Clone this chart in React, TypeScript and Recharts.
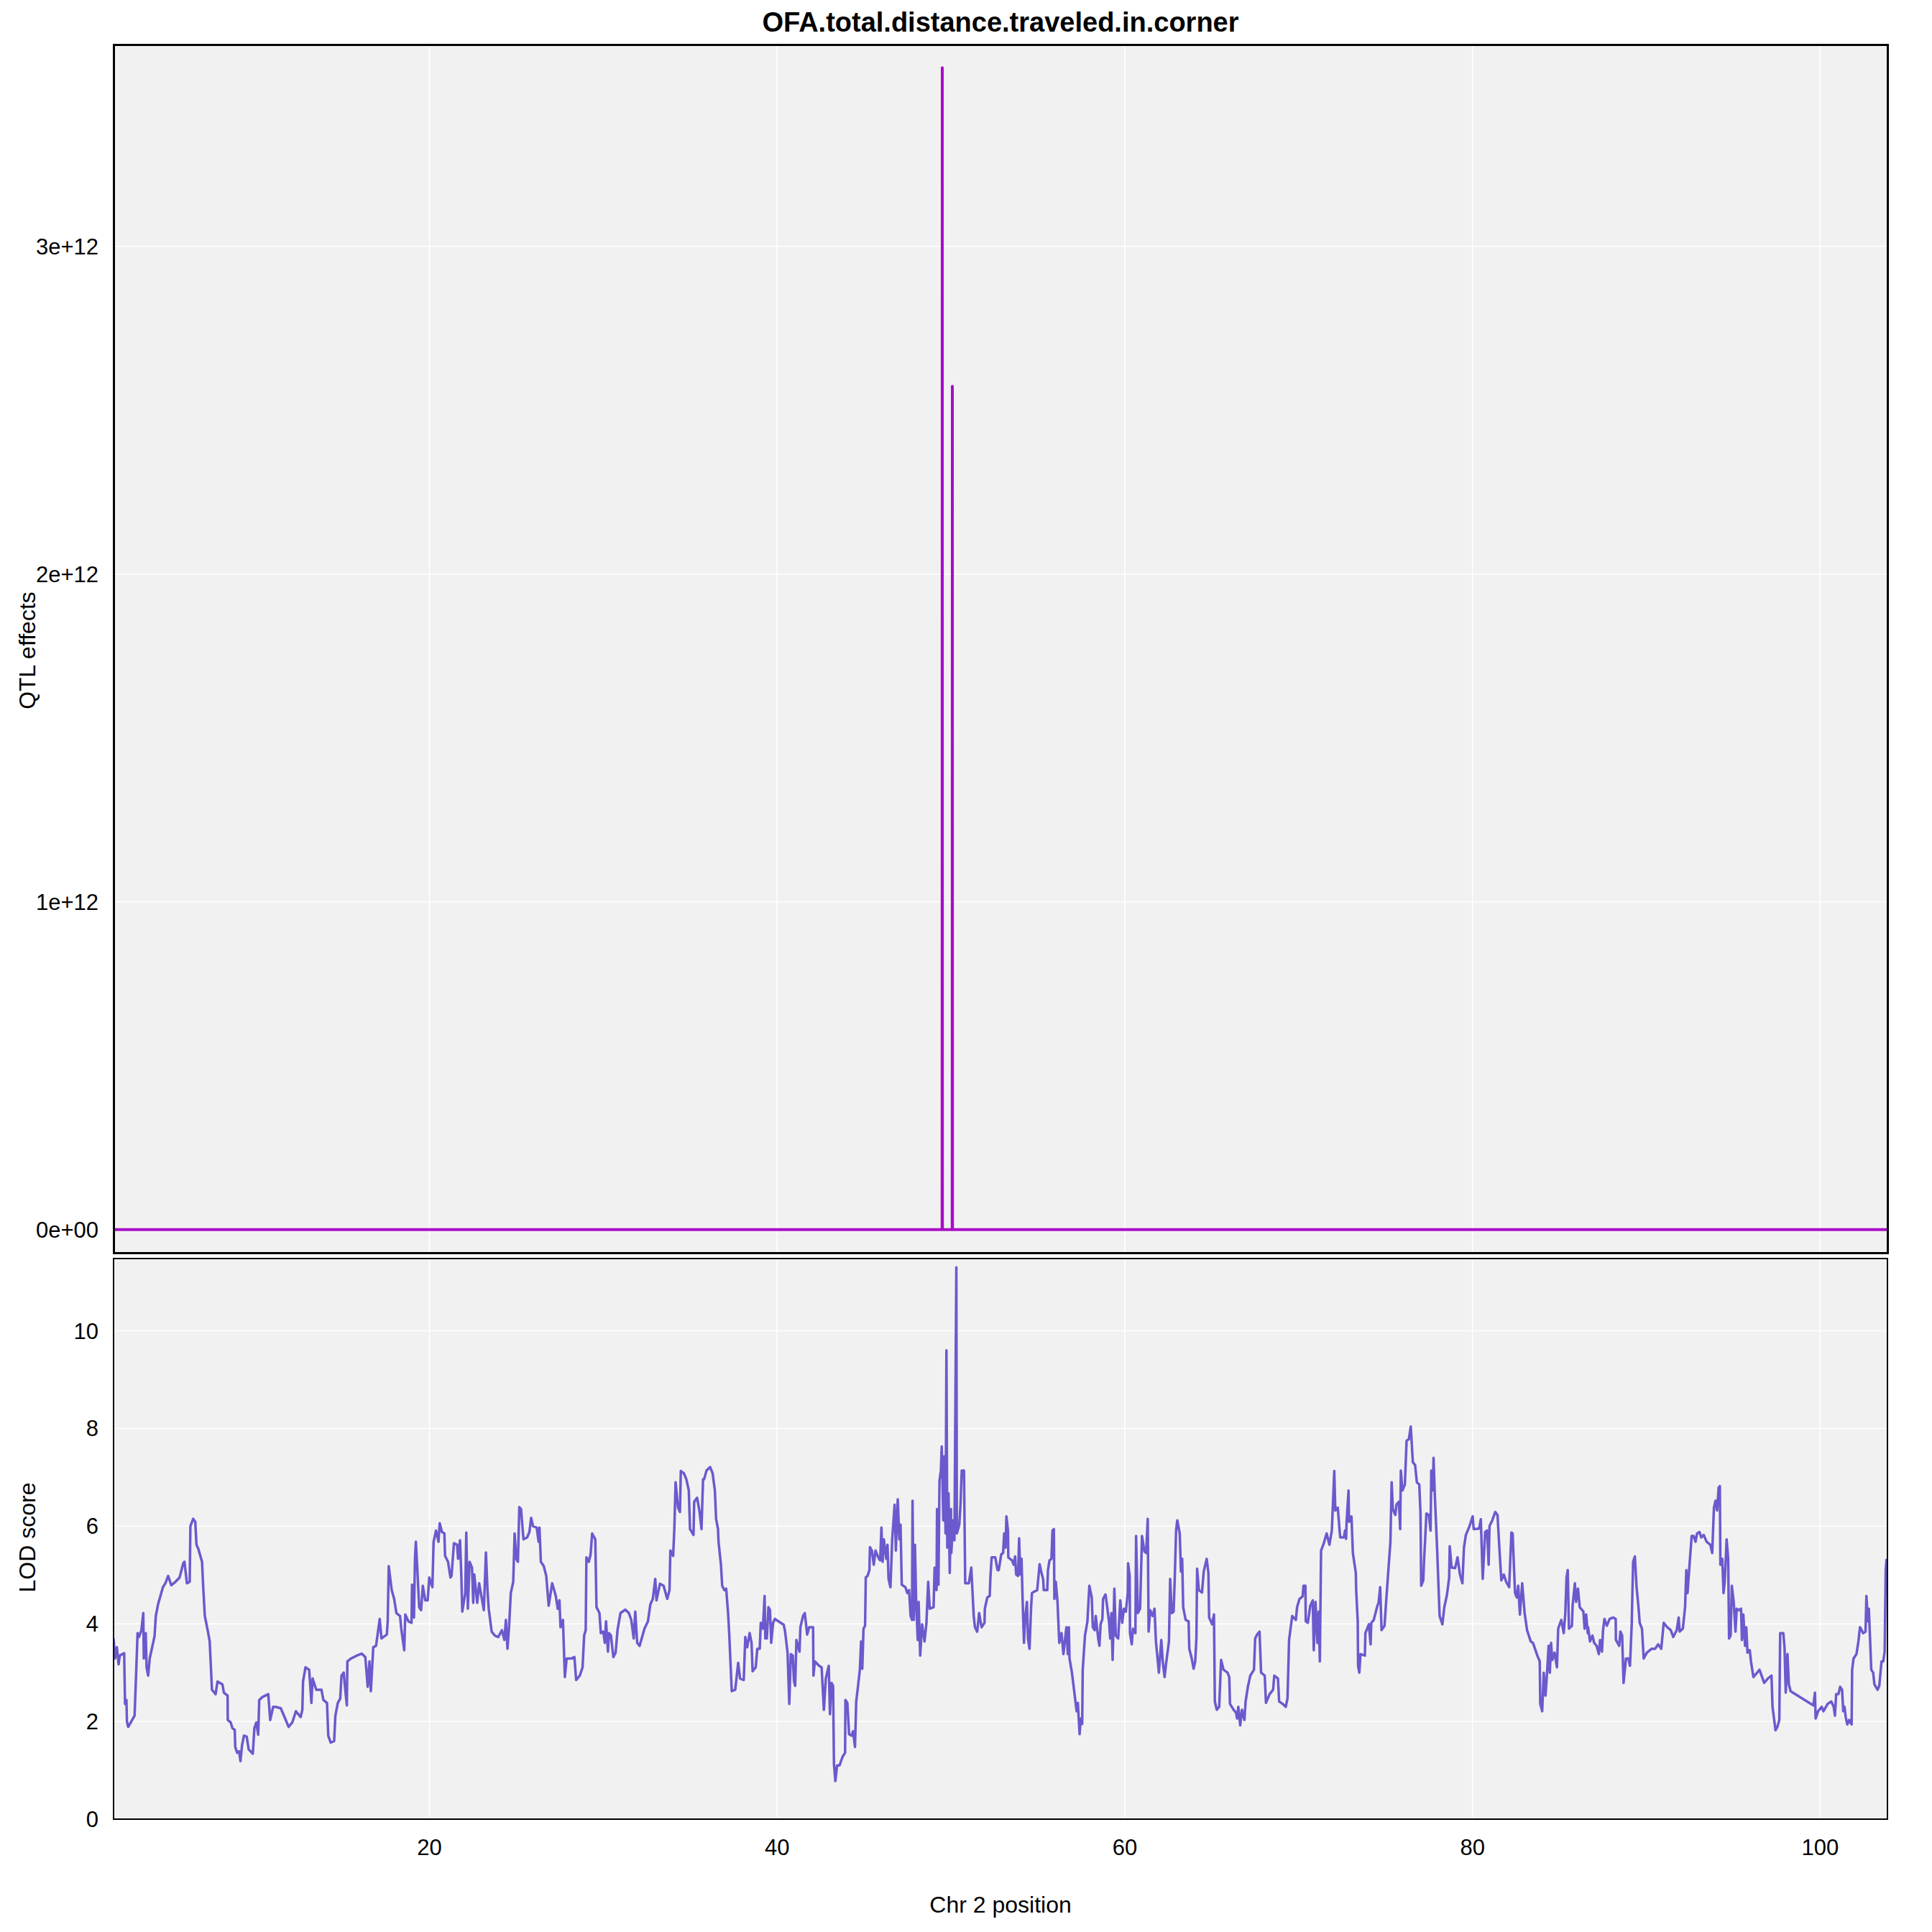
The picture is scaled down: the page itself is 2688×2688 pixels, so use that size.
import React from 'react';
import { LineChart, Line, XAxis, YAxis, CartesianGrid } from 'recharts';

// axis ticks
const xTicks = [20, 40, 60, 80, 100];
const effectTicks = [0, 1e12, 2e12, 3e12];
const effectTickLabels = ['0e+00', '1e+12', '2e+12', '3e+12'];
const lodTicks = [0, 2, 4, 6, 8, 10];

// QTL effect (top panel)
const effectPos = [1.83, 49.49, 49.5, 49.51, 50.07, 50.08, 50.09, 103.87];
const effectValue = [0, 0, 3.545e12, 0, 0, 2.573e12, 0, 0];

// LOD curve (bottom panel)
const lodPos = [
  1.83, 1.91, 2.02, 2.12, 2.19, 2.44, 2.49, 2.57, 2.6, 2.67, 2.88, 3.04, 3.13, 3.21, 3.29, 3.43,
  3.54, 3.57, 3.68, 3.73, 3.82, 3.91, 4.19, 4.26, 4.39, 4.67, 4.81, 4.97, 5.15, 5.36, 5.63, 5.84,
  5.91, 6.05, 6.21, 6.25, 6.41, 6.53, 6.6, 6.71, 6.92, 6.98, 7.08, 7.26, 7.36, 7.49, 7.7, 7.81,
  8.09, 8.18, 8.39, 8.4, 8.57, 8.67, 8.8, 8.83, 8.94, 9.05, 9.13, 9.22, 9.33, 9.49, 9.6, 9.84,
  9.93, 10.04, 10.15, 10.21, 10.39, 10.73, 10.84, 11.01, 11.15, 11.45, 11.7, 11.9, 12.11, 12.32, 12.59, 12.69,
  12.73, 12.87, 13.08, 13.15, 13.21, 13.28, 13.49, 13.79, 13.9, 14.11, 14.18, 14.32, 14.52, 14.59, 14.73, 14.87,
  14.94, 15.07, 15.14, 15.25, 15.28, 15.49, 15.83, 16.11, 16.31, 16.45, 16.55, 16.63, 16.77, 16.93, 17.14, 17.24,
  17.55, 17.6, 17.66, 17.83, 17.97, 18.1, 18.31, 18.38, 18.55, 18.61, 18.79,
  18.97, 19.0, 19.11, 19.17, 19.22, 19.3, 19.41, 19.52, 19.62, 19.76, 19.9, 19.99, 20.17, 20.24, 20.38, 20.52,
  20.59, 20.72, 20.86, 20.9, 21.07, 21.21, 21.27, 21.41, 21.59, 21.65, 21.76, 21.83, 21.89, 22.06, 22.12, 22.21,
  22.31, 22.45, 22.52, 22.58, 22.75, 22.86, 23.13, 23.25, 23.34, 23.41, 23.58, 23.76, 23.96, 24.17, 24.31, 24.4,
  24.49, 24.58, 24.68, 24.82, 24.9, 25.0, 25.09, 25.17, 25.27, 25.41, 25.62, 25.75, 25.85, 25.96, 26.17, 26.28,
  26.33, 26.41, 26.58, 26.72, 26.86, 27.06, 27.27, 27.38, 27.48, 27.54, 27.68, 27.79, 27.89, 28.16, 28.34, 28.44,
  28.65, 28.81, 28.9, 28.99, 29.03, 29.17, 29.27, 29.36, 29.54, 29.61, 29.78, 29.86, 30.0, 30.09, 30.16, 30.27,
  30.33, 30.44, 30.58, 30.71, 30.82, 30.99, 31.27, 31.47, 31.61, 31.75, 31.84, 31.95, 32.09, 32.37, 32.57, 32.71,
  32.85, 32.99, 33.06, 33.26, 33.47, 33.68, 33.81, 33.86, 34.02, 34.09, 34.16, 34.3, 34.41, 34.46, 34.64, 34.78,
  34.92, 34.99, 35.19, 35.23, 35.4, 35.54, 35.65, 35.74,
  35.8, 35.94, 36.15, 36.29, 36.42, 36.49, 36.6, 36.63, 36.77, 36.84, 36.97, 37.07, 37.18, 37.25, 37.39, 37.59,
  37.76, 37.87, 38.08, 38.17, 38.28, 38.42, 38.53, 38.59, 38.77, 38.86, 39.0, 39.06, 39.18, 39.28, 39.32, 39.41,
  39.5, 39.59, 39.66, 39.77, 39.87, 40.38, 40.46, 40.6, 40.7, 40.79, 40.9, 40.97, 41.04, 41.11, 41.29, 41.34,
  41.49, 41.59, 41.73, 41.84, 42.07, 42.09, 42.17, 42.42, 42.56, 42.62, 42.69, 42.8, 42.97, 43.04, 43.13, 43.22,
  43.27, 43.35, 43.45, 43.59, 43.77, 43.91, 43.93, 44.04, 44.14, 44.28, 44.37, 44.48, 44.55, 44.65, 44.76, 44.83,
  44.9, 44.97, 45.06, 45.1, 45.2, 45.31, 45.34, 45.45, 45.56, 45.66, 45.86, 45.93, 46.0, 46.07, 46.14, 46.28,
  46.35, 46.41, 46.52, 46.62, 46.76, 46.83, 46.94, 47.03, 47.1, 47.17, 47.38, 47.49, 47.59, 47.68, 47.76, 47.79,
  47.86, 47.93, 48.0, 48.09, 48.14, 48.23, 48.34, 48.48, 48.59, 48.69, 48.78, 49.0, 49.06, 49.17, 49.2, 49.28,
  49.34, 49.42, 49.47, 49.56, 49.61, 49.69, 49.74, 49.79, 49.86, 49.93, 50.0, 50.02, 50.13, 50.2, 50.31, 50.34,
  50.48, 50.55, 50.62, 50.75, 50.82, 51.03, 51.17, 51.31, 51.38, 51.51, 51.62, 51.76, 51.93, 51.95, 52.09, 52.23,
  52.27, 52.34, 52.55, 52.68,
  52.75, 52.89, 53.0, 53.06, 53.14, 53.19, 53.28, 53.3, 53.51, 53.61, 53.69, 53.75, 53.86, 53.92, 53.99, 54.06,
  54.13, 54.2, 54.27, 54.37, 54.43, 54.52, 54.61, 54.66, 54.79, 54.96, 55.1, 55.21, 55.3, 55.34, 55.54, 55.58,
  55.67, 55.78, 55.84, 55.92, 55.95, 56.03, 56.13, 56.23, 56.36, 56.47, 56.64, 56.72, 56.78, 56.82, 56.96, 57.09,
  57.23, 57.3, 57.4, 57.47, 57.55, 57.58, 57.71, 57.85, 57.96, 58.1, 58.16, 58.27, 58.33, 58.47, 58.54, 58.61,
  58.71, 58.75, 58.89, 58.95, 59.09, 59.16, 59.23, 59.3, 59.4, 59.48, 59.62, 59.74, 59.85, 59.95, 60.06, 60.17,
  60.19, 60.28, 60.3, 60.4, 60.47, 60.61, 60.65, 60.75, 60.88, 60.99, 61.13, 61.23, 61.32, 61.37, 61.46, 61.6,
  61.71, 61.79, 61.96, 62.1, 62.19, 62.29, 62.37, 62.54, 62.61, 62.7, 62.81, 62.88, 62.95, 63.02, 63.16, 63.23,
  63.3, 63.36, 63.5, 63.67, 63.71, 63.85, 63.96, 64.05, 64.12, 64.16, 64.26, 64.44, 64.54, 64.71, 64.81, 64.85,
  65.02, 65.13, 65.18, 65.29, 65.43, 65.54, 65.68, 65.91, 66.01, 66.05, 66.26, 66.4, 66.46, 66.53, 66.64, 66.74,
  66.88, 66.95, 67.08, 67.22, 67.43, 67.5, 67.61, 67.75, 67.84, 68.05, 68.12, 68.33, 68.53, 68.6, 68.81, 68.88,
  69.08, 69.26, 69.36, 69.45, 69.63,
  69.84, 69.91, 70.05, 70.23, 70.28, 70.39, 70.41, 70.53, 70.67, 70.81, 70.87, 70.97, 71.08, 71.15, 71.22, 71.29,
  71.43, 71.61, 71.77, 71.91, 72.05, 72.11, 72.25, 72.39, 72.6, 72.67, 72.73, 72.76, 72.87, 72.9, 73.04, 73.12,
  73.29, 73.31, 73.4, 73.42, 73.49, 73.56, 73.81, 73.84, 74.04, 74.14, 74.18, 74.32, 74.53, 74.6, 74.69, 74.77,
  74.94, 75.05, 75.15, 75.28, 75.35, 75.42, 75.56, 75.63, 75.77, 75.84, 75.88, 75.97, 76.11, 76.21, 76.34, 76.45,
  76.57, 76.7, 76.8, 76.94, 77.01, 77.05, 77.17, 77.21, 77.28, 77.35, 77.49, 77.59, 77.63, 77.72, 77.76, 77.83,
  77.97, 78.11, 78.27, 78.38, 78.52, 78.59, 78.66, 78.69, 78.8, 79.0, 79.14, 79.28, 79.42, 79.51, 79.62, 79.83,
  80.01, 80.07, 80.38, 80.48, 80.59, 80.73, 80.84, 80.93, 80.98, 81.14, 81.31, 81.44, 81.55, 81.66, 81.8, 81.94,
  82.11, 82.17, 82.24, 82.31, 82.38, 82.45, 82.55, 82.63, 82.73, 82.86, 83.0, 83.14, 83.35, 83.48, 83.73, 83.87,
  83.9, 84.01, 84.1, 84.2, 84.28, 84.38, 84.45, 84.52, 84.59, 84.72, 84.86, 84.93, 85.11, 85.25, 85.34, 85.41,
  85.48, 85.55, 85.72, 85.76, 85.89, 85.96, 86.07, 86.17, 86.38, 86.45, 86.54, 86.63,
  86.65, 86.76, 86.9, 87.0, 87.14, 87.27, 87.34, 87.45, 87.51, 87.59, 87.73, 87.89, 88.1, 88.24, 88.25, 88.44,
  88.51, 88.61, 88.69, 88.83, 88.97, 89.06, 89.16, 89.24, 89.34, 89.44, 89.55, 89.62, 89.75, 89.85, 90.03, 90.31,
  90.51, 90.68, 90.86, 91.0, 91.2, 91.41, 91.55, 91.75, 91.86, 91.92, 92.1, 92.23, 92.3, 92.37, 92.51, 92.61,
  92.72, 92.83, 92.92, 93.06, 93.16, 93.3, 93.47, 93.68, 93.79, 93.89, 93.98, 94.07, 94.16, 94.23, 94.26, 94.37,
  94.44, 94.51, 94.62, 94.71, 94.76, 94.85, 94.92, 95.03, 95.13, 95.2, 95.33, 95.45, 95.5, 95.58, 95.68, 95.75,
  95.82, 95.95, 96.02, 96.16, 96.51, 96.78, 96.99, 97.2, 97.26, 97.43, 97.54, 97.65, 97.7, 97.88, 97.95, 98.02,
  98.12, 98.2, 98.3, 99.61, 99.7, 99.74, 99.88, 100.09, 100.19, 100.43, 100.64, 100.78, 100.85, 100.92, 101.05, 101.15,
  101.26, 101.33, 101.4, 101.47, 101.56, 101.67, 101.81, 101.84, 101.92, 102.09, 102.2, 102.29, 102.39, 102.47, 102.61, 102.66,
  102.75, 102.8, 102.89, 102.94, 103.05, 103.12, 103.3, 103.4, 103.47, 103.53, 103.63, 103.71, 103.77, 103.82,
];

const lodScore = [
  3.7, 3.29, 3.52, 3.17, 3.35, 3.4, 2.36, 2.44, 2.0, 1.89, 2.02, 2.12, 3.0, 3.81, 3.73, 3.87,
  4.22, 3.29, 3.81, 3.11, 2.94, 3.29, 3.75, 4.16, 4.4, 4.75, 4.83, 4.98, 4.79, 4.85, 4.95, 5.24,
  5.27, 4.83, 4.86, 6.0, 6.15, 6.09, 5.62, 5.53, 5.27, 4.8, 4.16, 3.84, 3.64, 2.65, 2.56, 2.82,
  2.76, 2.59, 2.53, 2.03, 1.98, 1.86, 1.83, 1.48, 1.36, 1.39, 1.19, 1.51, 1.71, 1.69, 1.43, 1.34,
  1.86, 1.98, 1.73, 2.44, 2.5, 2.56, 2.03, 2.3, 2.3, 2.27, 2.06, 1.89, 1.98, 2.21, 2.09, 2.24,
  2.82, 3.11, 3.06, 2.71, 2.38, 2.88, 2.65, 2.65, 2.44, 2.38, 1.71, 1.57, 1.6, 2.12, 2.38, 2.47,
  2.94, 3.0, 2.71, 2.33, 3.23, 3.29, 3.35, 3.39, 3.32, 2.71, 3.23, 2.62, 3.52, 3.55, 4.1, 3.7,
  3.78, 4.05, 5.18, 4.69, 4.51, 4.22, 4.16, 3.9, 3.46, 4.19, 4.05,
  4.02, 4.8, 4.13, 5.36, 5.68, 5.15, 4.34, 4.28, 4.78, 4.48, 4.48, 4.95, 4.75, 5.68, 5.91, 5.68,
  6.06, 5.88, 5.85, 5.39, 5.27, 4.95, 4.98, 5.65, 5.62, 5.33, 5.71, 5.04, 4.25, 4.63, 5.87, 4.31,
  5.27, 5.15, 4.43, 5.01, 4.43, 4.83, 4.28, 5.46, 4.69, 4.31, 3.84, 3.76, 3.73, 3.87, 3.67, 4.08,
  3.49, 3.93, 4.63, 4.86, 5.85, 5.33, 5.27, 6.39, 6.35, 5.73, 5.77, 5.88, 6.17, 6.0, 5.97, 5.68,
  5.97, 5.27, 5.18, 4.98, 4.37, 4.83, 4.57, 4.31, 4.48, 3.93, 4.08, 2.91, 3.29, 3.29, 3.32, 2.85,
  2.94, 3.11, 3.76, 3.87, 5.36, 5.27, 5.42, 5.85, 5.73, 4.34, 4.22, 3.81, 3.84, 3.61, 4.05, 3.43,
  3.81, 3.76, 3.32, 3.41, 3.87, 4.22, 4.29, 4.22, 4.08, 3.7, 4.25, 3.61, 3.55, 3.9, 4.05, 4.4,
  4.51, 4.92, 4.48, 4.82, 4.78, 4.51, 4.69, 5.5, 5.39, 5.97, 6.9, 6.38, 6.29, 7.13, 7.08, 6.96,
  6.73, 5.94, 5.82, 6.5, 6.58, 6.29, 5.94, 6.96,
  6.96, 7.14, 7.21, 7.08, 6.73, 6.15, 5.94, 5.68, 5.21, 4.78, 4.69, 4.72, 4.22, 3.76, 2.62, 2.65,
  3.2, 2.88, 2.85, 3.73, 3.52, 3.81, 3.61, 3.03, 3.11, 3.49, 3.49, 4.02, 3.9, 4.57, 3.7, 3.7,
  4.34, 4.28, 3.61, 4.02, 4.1, 3.98, 3.84, 3.41, 2.36, 3.38, 3.35, 2.82, 2.73, 3.67, 3.43, 3.93,
  4.16, 4.22, 3.78, 3.93, 3.93, 2.94, 3.23, 3.14, 3.11, 2.71, 2.24, 2.88, 3.14, 2.15, 2.79, 2.73,
  1.13, 0.78, 1.1, 1.1, 1.28, 1.36, 2.44, 2.38, 1.74, 1.71, 1.8, 1.48, 2.41, 2.71, 3.06, 3.64,
  3.08, 3.9, 3.96, 4.95, 4.98, 5.1, 5.57, 5.5, 5.21, 5.5, 5.33, 5.3, 5.97, 5.27, 5.73, 5.33,
  5.62, 4.92, 4.75, 5.73, 6.44, 5.5, 6.55, 5.73, 6.03, 4.8, 4.75, 4.63, 4.69, 4.16, 4.08, 6.52,
  4.08, 5.62, 4.4, 3.67, 4.45, 3.35, 3.99, 3.64, 4.02, 4.86, 4.31, 4.34, 5.15, 4.69, 6.35, 4.8,
  6.93, 7.14, 7.63, 6.12, 7.43, 5.85, 9.6, 5.56, 6.67, 5.04, 6.35, 5.45, 6.12, 5.71, 11.3, 5.85,
  6.03, 6.44, 7.14, 7.14, 4.83, 4.83, 5.15, 4.16, 3.93, 3.84, 4.22, 3.93, 4.02, 4.31, 4.54, 4.57,
  4.95, 5.36, 5.36, 5.1,
  5.1, 5.42, 5.45, 5.85, 5.56, 6.2, 5.91, 5.36, 5.3, 5.21, 5.38, 5.01, 4.98, 5.75, 5.01, 5.33,
  4.4, 3.61, 4.13, 4.45, 3.7, 3.49, 4.34, 4.63, 4.66, 4.69, 5.22, 5.04, 4.92, 4.69, 4.69, 5.1,
  5.3, 5.33, 5.91, 5.94, 4.51, 4.86, 4.45, 3.61, 3.81, 3.38, 3.93, 3.38, 3.93, 3.29, 3.0, 2.62,
  2.21, 2.38, 1.74, 2.06, 1.95, 3.06, 3.76, 4.05, 4.78, 4.54, 3.93, 3.87, 4.16, 3.7, 3.55, 3.99,
  4.1, 4.51, 4.6, 4.45, 4.05, 3.7, 4.22, 3.26, 4.72, 3.76, 3.7, 4.48, 4.02, 4.31, 4.25, 4.63,
  5.24, 4.98, 3.81, 3.58, 3.9, 3.81, 5.8, 4.22, 4.31, 5.8, 5.48, 5.45, 6.15, 3.84, 4.28, 4.16,
  4.31, 3.64, 3.0, 3.67, 3.2, 2.91, 3.17, 3.64, 4.92, 4.22, 4.25, 5.01, 5.91, 6.12, 5.85, 5.07,
  5.33, 4.34, 4.08, 4.05, 3.49, 3.29, 3.08, 3.23, 3.7, 5.13, 4.69, 4.64, 5.07, 5.33, 5.04, 4.13,
  3.99, 4.19, 2.41, 2.24, 2.3, 3.26, 3.06, 3.0, 2.91, 2.36, 2.24, 2.18, 2.06, 2.3, 1.92, 2.24,
  2.03, 2.41, 2.71, 2.94, 3.06, 3.7, 3.78, 3.84, 3.0, 2.94, 2.38, 2.56, 2.65, 2.94, 2.88, 2.41,
  2.36, 2.3, 2.47, 3.67, 4.16,
  4.08, 4.34, 4.51, 4.56, 4.78, 4.78, 4.05, 4.02, 4.37, 4.48, 3.46, 4.45, 3.61, 4.25, 3.23, 5.5,
  5.63, 5.85, 5.62, 5.91, 7.13, 6.32, 6.38, 5.77, 5.77, 5.91, 5.74, 6.09, 6.73, 6.09, 6.2, 5.45,
  5.04, 4.69, 4.05, 3.14, 3.0, 3.38, 3.35, 3.81, 3.99, 3.58, 4.02, 4.08, 4.37, 4.43, 4.75, 3.87,
  3.96, 4.54, 5.04, 5.68, 6.9, 6.35, 6.23, 6.44, 6.5, 5.94, 7.14, 6.73, 6.85, 7.75, 7.78, 8.04,
  7.31, 7.25, 6.9, 6.85, 6.26, 4.78, 4.89, 5.27, 5.74, 6.26, 6.23, 5.91, 7.14, 6.73, 7.4, 6.67,
  5.5, 4.16, 3.99, 4.34, 4.57, 4.75, 4.95, 5.59, 5.15, 5.14, 5.36, 5.01, 4.83, 5.56, 5.82, 6.0,
  6.2, 5.94, 5.95, 6.14, 4.92, 5.88, 5.91, 5.21, 6.0, 6.12, 6.29, 6.23, 5.53, 4.89, 5.01, 4.86,
  4.75, 5.27, 5.87, 5.85, 5.21, 4.63, 4.54, 4.78, 4.19, 4.83, 4.22, 3.87, 3.64, 3.61, 3.35, 3.23,
  2.36, 2.21, 3.0, 2.53, 2.94, 3.55, 3.0, 3.61, 3.26, 3.41, 3.11, 3.9, 4.08, 3.81, 4.22, 4.95,
  5.1, 3.9, 3.96, 4.37, 4.83, 4.45, 4.72, 4.34, 4.25, 3.9, 4.19, 3.81,
  3.93, 3.64, 3.76, 3.61, 3.55, 3.38, 3.67, 3.43, 3.87, 4.1, 3.96, 4.1, 4.13, 4.1, 3.67, 3.55,
  3.84, 3.76, 2.79, 3.29, 3.29, 3.14, 3.99, 5.27, 5.38, 4.75, 4.34, 4.02, 3.9, 3.29, 3.41, 3.49,
  3.49, 3.58, 3.49, 4.02, 3.93, 3.87, 3.73, 3.87, 4.13, 3.84, 3.9, 4.34, 5.1, 4.63, 5.33, 5.8,
  5.8, 5.68, 5.85, 5.88, 5.77, 5.82, 5.68, 5.62, 5.45, 6.38, 6.52, 6.32, 6.79, 6.82, 5.21, 5.33,
  4.63, 4.86, 5.73, 5.33, 3.7, 3.76, 4.78, 4.43, 3.84, 4.31, 4.28, 4.31, 3.67, 4.19, 3.55, 3.93,
  3.41, 3.46, 3.23, 2.91, 3.06, 2.79, 2.88, 2.94, 2.3, 1.82, 1.89, 2.03, 3.81, 3.81, 3.52, 2.59,
  3.38, 2.76, 2.62, 2.33, 2.59, 2.06, 2.21, 2.3, 2.21, 2.36, 2.41, 2.3, 2.12, 2.56, 2.56, 2.71,
  2.65, 2.21, 2.3, 2.09, 1.94, 2.03, 1.94, 3.06, 3.29, 3.38, 3.64, 3.93, 3.87, 3.81, 3.84, 4.57,
  4.05, 4.31, 3.52, 3.06, 3.0, 2.76, 2.65, 2.73, 3.0, 3.23, 3.23, 3.43, 5.1, 5.33,
];

const xDomain = [1.83, 103.87];
const effectDomain = [-0.0708e12, 3.616e12];
const lodDomain = [0, 11.48];

const effectData = effectPos.map((pos, i) => ({ pos, effect: effectValue[i] }));
const lodData = lodPos.map((pos, i) => ({ pos, lod: lodScore[i] }));

const FONT = '"Liberation Sans", Arial, Helvetica, sans-serif';
const tickStyle = { fontSize: 31, fill: '#000000', fontFamily: FONT };

function PanelBorder({ left, top, right, bottom, width }: { left: number; top: number; right: number; bottom: number; width: number }) {
  return (
    <div
      style={{
        position: 'absolute',
        left: left - width / 2,
        top: top - width / 2,
        width: right - left + width,
        height: bottom - top + width,
        border: `${width}px solid #000`,
        boxSizing: 'border-box',
        pointerEvents: 'none',
      }}
    />
  );
}

export default function App() {
  return (
    <div style={{ position: 'absolute', left: 0, top: 0, width: 2688, height: 2688, background: '#fff', fontFamily: FONT, color: '#000' }}>
      <div style={{ position: 'absolute', left: 158, width: 2468, top: 12, height: 38, lineHeight: '38px', textAlign: 'center', fontWeight: 'bold', fontSize: 38 }}>
        OFA.total.distance.traveled.in.corner
      </div>

      {/* QTL effects */}
      <div style={{ position: 'absolute', left: 0, top: 0 }}>
        <LineChart width={2688} height={1800} data={effectData} margin={{ top: 62, right: 62, bottom: 57, left: 18 }}>
          <CartesianGrid fill="#f1f1f1" stroke="#ffffff" strokeWidth={1.5} />
          <XAxis dataKey="pos" type="number" domain={xDomain} ticks={xTicks} allowDataOverflow hide />
          <YAxis
            type="number"
            domain={effectDomain}
            ticks={effectTicks}
            interval={0}
            allowDataOverflow
            width={140}
            axisLine={false}
            tickLine={false}
            tickMargin={15}
            tick={tickStyle}
            tickFormatter={(v: number) => effectTickLabels[effectTicks.indexOf(v)] ?? String(v)}
          />
          <Line
            type="linear"
            dataKey="effect"
            stroke="#a80cc8"
            strokeWidth={4}
            strokeLinejoin="round"
            dot={false}
            isAnimationActive={false}
          />
        </LineChart>
      </div>

      {/* LOD score */}
      <div style={{ position: 'absolute', left: 0, top: 1700 }}>
        <LineChart width={2688} height={988} data={lodData} margin={{ top: 51, right: 62, bottom: 97, left: 18 }}>
          <CartesianGrid fill="#f1f1f1" stroke="#ffffff" strokeWidth={1.5} />
          <XAxis
            dataKey="pos"
            type="number"
            domain={xDomain}
            ticks={xTicks}
            interval={0}
            allowDataOverflow
            height={60}
            axisLine={false}
            tickLine={false}
            tickMargin={22}
            tick={tickStyle}
          />
          <YAxis
            type="number"
            domain={lodDomain}
            ticks={lodTicks}
            interval={0}
            allowDataOverflow
            width={140}
            axisLine={false}
            tickLine={false}
            tickMargin={15}
            tick={tickStyle}
          />
          <Line
            type="linear"
            dataKey="lod"
            stroke="#6a5acd"
            strokeWidth={3.5}
            strokeLinejoin="round"
            dot={false}
            isAnimationActive={false}
          />
        </LineChart>
      </div>

      <PanelBorder left={158} top={62} right={2626} bottom={1743} width={3} />
      <PanelBorder left={158} top={1751} right={2626} bottom={2531} width={2} />

      <div style={{ position: 'absolute', left: 38, top: 905, transform: 'translate(-50%, -50%) rotate(-90deg)', whiteSpace: 'nowrap', fontSize: 32 }}>
        QTL effects
      </div>
      <div style={{ position: 'absolute', left: 38, top: 2139, transform: 'translate(-50%, -50%) rotate(-90deg)', whiteSpace: 'nowrap', fontSize: 32 }}>
        LOD score
      </div>
      <div style={{ position: 'absolute', left: 158, width: 2468, top: 2634, height: 32, lineHeight: '32px', textAlign: 'center', fontSize: 32 }}>
        Chr 2 position
      </div>
    </div>
  );
}
